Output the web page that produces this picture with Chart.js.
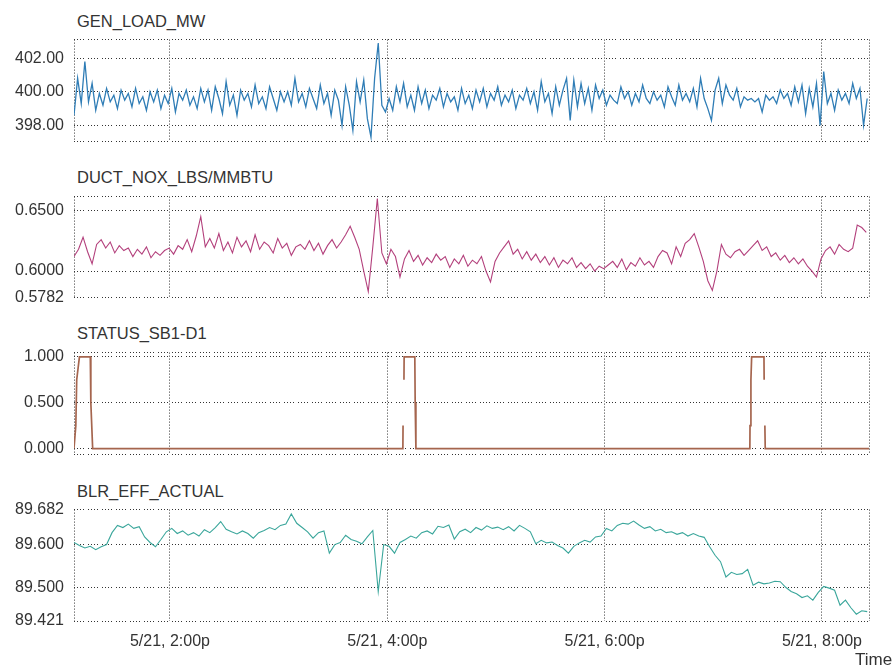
<!DOCTYPE html>
<html>
<head>
<meta charset="utf-8">
<script src="https://cdn.jsdelivr.net/npm/chart.js@4.4.1/dist/chart.umd.min.js"></script>
<style>
  body { margin: 0; background: #fff; }
  #wrap { position: relative; width: 893px; height: 671px; overflow: hidden; }
  canvas { position: absolute; left: 0; }
  .ttl { position: absolute; left: 77px; font-family: "Liberation Sans", Arial, sans-serif; font-size: 16.5px; color: #333; white-space: nowrap; }
</style>
</head>
<body>
<div id="wrap">
  <div class="ttl" style="top:12px">GEN_LOAD_MW</div>
  <canvas id="c1" width="893" height="141" style="top:20px"></canvas>
  <div class="ttl" style="top:168px">DUCT_NOX_LBS/MMBTU</div>
  <canvas id="c2" width="893" height="140" style="top:177px"></canvas>
  <div class="ttl" style="top:324px">STATUS_SB1-D1</div>
  <canvas id="c3" width="893" height="141" style="top:333px"></canvas>
  <div class="ttl" style="top:482px">BLR_EFF_ACTUAL</div>
  <canvas id="c4" width="893" height="176" style="top:490px"></canvas>
  <div class="ttl" style="top:650px;left:855px;font-size:17px">Time</div>
</div>
<script>
// Zeitachse in Minuten ab Mitternacht (5/21)
const timeStart = 787;
const timeEnd = 1226;
const timeTickMinutes = [840, 960, 1080, 1200];
const timeTickLabels = ["5/21, 2:00p", "5/21, 4:00p", "5/21, 6:00p", "5/21, 8:00p"];

// GEN_LOAD_MW, alle 2 Minuten
const loadStep = 2;
const loadValues = [
  398.6, 400.8, 399.3, 401.8, 399.4, 400.5, 398.9, 399.9, 399.2, 400.2, 399.4, 399.8, 399.0, 400.1, 399.5, 399.9, 399.1, 400.2, 399.3, 399.7,
  398.9, 400.0, 399.4, 400.1, 399.0, 399.8, 399.3, 400.2, 398.8, 399.9, 399.5, 400.1, 399.2, 399.7, 399.0, 400.2, 399.4, 400.1, 398.9, 400.3,
  399.6, 398.7, 400.6, 399.2, 399.8, 398.6, 400.1, 399.5, 399.9, 399.1, 400.4, 399.3, 399.7, 399.0, 400.3, 399.6, 398.9, 400.0, 399.4, 400.0,
  399.2, 400.8, 399.4, 399.9, 399.1, 400.2, 399.6, 399.0, 400.4, 399.3, 399.9, 398.6, 400.1, 399.5, 398.0, 400.3, 399.2, 397.7, 400.6, 399.4,
  400.7, 398.4, 397.3, 400.8, 402.9, 399.2, 398.8, 399.6, 398.9, 400.3, 399.4, 400.5, 399.1, 399.8, 398.9, 400.3, 399.3, 400.1, 399.0, 399.8,
  399.5, 400.2, 399.1, 399.9, 399.4, 399.7, 398.9, 400.2, 399.3, 399.8, 399.0, 400.1, 399.4, 400.2, 399.1, 399.9, 399.5, 400.3, 399.2, 399.8,
  399.4, 400.1, 399.0, 399.8, 399.5, 400.2, 399.3, 400.0, 398.9, 400.6, 399.4, 399.9, 398.7, 400.3, 399.2, 400.1, 400.8, 398.3, 400.7, 399.1,
  400.5, 399.3, 400.2, 398.9, 400.4, 399.6, 400.1, 399.2, 399.8, 399.5, 399.3, 400.3, 399.6, 400.0, 399.2, 399.9, 399.4, 400.4, 399.6, 399.3,
  400.0, 399.5, 399.8, 399.1, 400.3, 399.7, 399.2, 400.4, 399.5, 399.9, 399.4, 400.2, 399.1, 400.8, 399.6, 399.0, 398.3, 400.1, 400.8, 399.3,
  400.4, 399.8, 399.5, 400.2, 399.1, 399.7, 399.5, 399.6, 399.4, 399.6, 398.8, 399.8, 399.5, 399.7, 399.3, 400.1, 399.6, 399.9, 399.2, 400.3,
  399.4, 400.4, 398.7, 400.2, 399.1, 400.5, 398.0, 401.2, 399.3, 399.9, 398.9, 400.1, 399.5, 399.9, 399.3, 400.5, 399.6, 400.2, 398.0, 399.6
];
const loadTicks = [402, 400, 398];

// DUCT_NOX_LBS/MMBTU, alle 2,5 Minuten
const noxStep = 2.5;
const noxValues = [
  0.612, 0.618, 0.628, 0.616, 0.606, 0.622, 0.626, 0.619, 0.624, 0.615, 0.621, 0.617, 0.619, 0.612, 0.618, 0.614, 0.620, 0.611, 0.616, 0.613,
  0.617, 0.619, 0.614, 0.621, 0.618, 0.626, 0.616, 0.629, 0.645, 0.620, 0.627, 0.619, 0.631, 0.617, 0.624, 0.615, 0.628, 0.620, 0.625, 0.616,
  0.630, 0.618, 0.624, 0.621, 0.615, 0.627, 0.619, 0.623, 0.613, 0.620, 0.622, 0.618, 0.625, 0.617, 0.623, 0.614, 0.621, 0.626, 0.619, 0.624,
  0.630, 0.637, 0.628, 0.618, 0.600, 0.583, 0.620, 0.660, 0.615, 0.606, 0.618, 0.612, 0.595, 0.610, 0.617, 0.608, 0.613, 0.605, 0.611, 0.607,
  0.614, 0.609, 0.612, 0.603, 0.610, 0.606, 0.613, 0.604, 0.609, 0.606, 0.612, 0.600, 0.591, 0.608, 0.615, 0.620, 0.625, 0.614, 0.618, 0.610,
  0.616, 0.609, 0.614, 0.607, 0.612, 0.605, 0.611, 0.603, 0.609, 0.606, 0.611, 0.603, 0.607, 0.602, 0.606, 0.600, 0.604, 0.602, 0.605, 0.608,
  0.603, 0.610, 0.601, 0.607, 0.604, 0.611, 0.605, 0.608, 0.603, 0.612, 0.617, 0.615, 0.606, 0.620, 0.612, 0.623, 0.626, 0.631, 0.620, 0.608,
  0.592, 0.584, 0.600, 0.622, 0.614, 0.611, 0.616, 0.618, 0.613, 0.617, 0.621, 0.625, 0.617, 0.620, 0.612, 0.615, 0.609, 0.613, 0.607, 0.611,
  0.606, 0.610, 0.604, 0.600, 0.595, 0.610, 0.617, 0.620, 0.614, 0.622, 0.618, 0.616, 0.619, 0.638, 0.636, 0.632
];
const noxTicks = [0.65, 0.6, 0.5782];

// STATUS_SB1-D1, Schaltzeitpunkte (null = Datenlücke)
const statusTimes = [787, 788, 788.5, 790, 796, 796.3, 797.3, 968.6, 968.7, 968.9, 969.2, 969.3, 975.2, 975.4, 975.8, 1160.2, 1160.3, 1160.8, 1161.2, 1168, 1168.1, 1168.3, 1168.5, 1168.7, 1226];
const statusValues = [0, 0.25, 0.75, 1, 1, 0.5, 0, 0, 0.25, null, 0.75, 1, 1, 0.5, 0, 0, 0.25, 0.75, 1, 1, 0.75, null, 0.25, 0, 0];
const statusTicks = [1, 0.5, 0];

// BLR_EFF_ACTUAL, alle 3 Minuten
const effStep = 3;
const effValues = [
  89.605, 89.598, 89.592, 89.596, 89.588, 89.595, 89.600, 89.628, 89.645, 89.640, 89.648, 89.638, 89.642, 89.618, 89.605, 89.595, 89.612, 89.630, 89.638, 89.626,
  89.632, 89.622, 89.628, 89.620, 89.635, 89.628, 89.640, 89.654, 89.636, 89.630, 89.625, 89.632, 89.626, 89.615, 89.628, 89.633, 89.640, 89.635, 89.645, 89.648,
  89.672, 89.650, 89.640, 89.630, 89.615, 89.628, 89.632, 89.580, 89.600, 89.605, 89.622, 89.612, 89.608, 89.602, 89.618, 89.633, 89.490, 89.600, 89.596, 89.580,
  89.605, 89.612, 89.620, 89.615, 89.628, 89.632, 89.625, 89.643, 89.640, 89.646, 89.613, 89.630, 89.636, 89.628, 89.640, 89.634, 89.644, 89.638, 89.641, 89.635,
  89.642, 89.632, 89.645, 89.638, 89.630, 89.602, 89.610, 89.604, 89.606, 89.598, 89.592, 89.580, 89.596, 89.604, 89.610, 89.606, 89.618, 89.620, 89.638, 89.632,
  89.645, 89.650, 89.648, 89.655, 89.646, 89.638, 89.642, 89.632, 89.636, 89.628, 89.630, 89.624, 89.628, 89.620, 89.626, 89.620, 89.617, 89.595, 89.575, 89.560,
  89.524, 89.535, 89.530, 89.532, 89.542, 89.505, 89.512, 89.508, 89.510, 89.514, 89.513, 89.500, 89.490, 89.485, 89.476, 89.480, 89.470, 89.488, 89.502, 89.498,
  89.493, 89.458, 89.470, 89.452, 89.437, 89.445, 89.443
];
const effTicks = [89.682, 89.6, 89.5, 89.421];

// Gemeinsame Stile
const gridColor = "#333";
const hDash = [1, 2, 1, 2, 1, 2, 1, 4];   // waagerechte Gitterlinien
const vDash = [1, 2];                     // senkrechte Gitterlinien
const tickFont = { family: "'Liberation Sans', Arial, sans-serif", size: 16 };
const tickColor = "#333";

function seriesPoints(values, step) {
  return values.map((v, i) => ({ x: timeStart + i * step, y: v }));
}

function buildPanel(canvasId, cfg) {
  const ctx = document.getElementById(canvasId).getContext("2d");
  return new Chart(ctx, {
    type: "line",
    data: {
      datasets: [{
        data: cfg.points,
        borderColor: cfg.color,
        borderWidth: cfg.width || 1,
        pointRadius: 0,
        tension: 0,
        spanGaps: false
      }]
    },
    options: {
      responsive: false,
      animation: false,
      layout: { autoPadding: false, padding: { top: 10, bottom: cfg.last ? 0 : 10, left: 0, right: 24 } },
      plugins: { legend: { display: false }, tooltip: { enabled: false } },
      scales: {
        x: {
          type: "linear",
          min: timeStart,
          max: timeEnd,
          afterFit: (scale) => { scale.height = cfg.last ? 45 : 0; },
          afterBuildTicks: (scale) => {
            scale.ticks = [timeStart, ...timeTickMinutes, timeEnd].map(v => ({ value: v }));
          },
          ticks: {
            display: !!cfg.last,
            autoSkip: false,
            maxRotation: 0,
            padding: 11,
            font: tickFont,
            color: tickColor,
            callback: (v) => {
              const idx = timeTickMinutes.indexOf(v);
              return idx >= 0 ? timeTickLabels[idx] : "";
            }
          },
          grid: { color: gridColor, drawTicks: false },
          border: { display: false, dash: vDash }
        },
        y: {
          type: "linear",
          min: cfg.min,
          max: cfg.max,
          afterFit: (scale) => { scale.width = 74; },
          afterBuildTicks: (scale) => {
            const vals = [cfg.min, ...cfg.ticks, cfg.max].filter((v, i, a) => a.indexOf(v) === i);
            scale.ticks = vals.map(v => ({ value: v }));
          },
          ticks: {
            padding: 10,
            font: tickFont,
            color: tickColor,
            callback: (v) => cfg.ticks.includes(v) ? v.toFixed(cfg.decimals) : ""
          },
          grid: { color: gridColor, drawTicks: false },
          border: { display: false, dash: hDash }
        }
      }
    }
  });
}

buildPanel("c1", {
  points: seriesPoints(loadValues, loadStep),
  color: "#2f7db6", width: 1.3,
  min: 397.05, max: 403.1, ticks: loadTicks, decimals: 2
});

buildPanel("c2", {
  points: seriesPoints(noxValues, noxStep),
  color: "#b3407c", width: 1.1,
  min: 0.5782, max: 0.6616, ticks: noxTicks, decimals: 4
});

buildPanel("c3", {
  points: statusTimes.map((t, i) => ({ x: t, y: statusValues[i] })),
  color: "#a5654e", width: 1.7,
  min: -0.064, max: 1.046, ticks: statusTicks, decimals: 3
});

buildPanel("c4", {
  points: seriesPoints(effValues, effStep),
  color: "#3aa69b", width: 1.1,
  min: 89.421, max: 89.682, ticks: effTicks, decimals: 3, last: true
});
</script>
</body>
</html>
